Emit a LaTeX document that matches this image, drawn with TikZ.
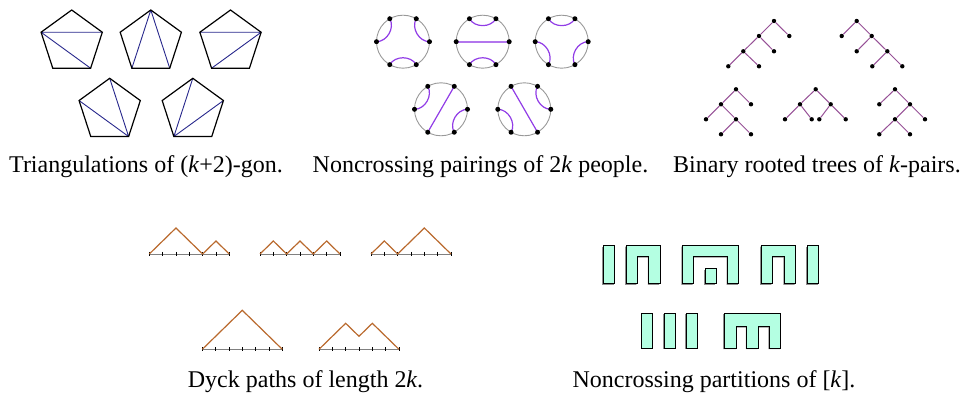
\documentclass[tikz,border=0pt]{standalone}
\usepackage{fontspec}
\setmainfont{Liberation Serif}
\usetikzlibrary{calc,shadows}

\definecolor{diagblue}{RGB}{40,40,140}
\definecolor{pairviolet}{RGB}{145,60,230}
\definecolor{treemauve}{RGB}{150,80,150}
\definecolor{dyckbrown}{RGB}{185,105,45}
\definecolor{mint}{RGB}{180,255,226}

\begin{document}
\begin{tikzpicture}[x=1pt,y=-1pt,
  gon/.style={draw=black,line width=1.2},
  diag/.style={draw=diagblue,line width=0.9},
  rim/.style={draw=black!40,line width=0.9},
  pair/.style={draw=pairviolet,line width=1.2},
  dot/.style={circle,fill=black,inner sep=0pt,minimum size=4.4pt},
  edge/.style={draw=treemauve,line width=1},
  axis/.style={draw=black!50,line width=0.9},
  tick/.style={draw=black,line width=0.9},
  dyck/.style={draw=dyckbrown,line width=1.2},
  block/.style={fill=mint,draw=black,line width=1,
    drop shadow={shadow xshift=-0.9pt,shadow yshift=-0.9pt,fill=black!45,opacity=1}},
  caption/.style={anchor=base,font=\fontsize{24}{28}\selectfont}]
\useasboundingbox (0,0) rectangle (962,395);

% Triangulations
\foreach \n/\cx/\cy in {p1/71.7/42.2, p2/150.8/42.2, p3/230.5/42.2, p4/109.7/110.5, p5/192.8/110.5} {
  \foreach \i in {0,...,4}
    \coordinate (\n-\i) at ($(\cx,\cy)+(-90-72*\i:32.2)$);
}
\draw[diag] (p1-1) -- (p1-4) (p1-1) -- (p1-3);
\draw[diag] (p2-0) -- (p2-2) (p2-0) -- (p2-3);
\draw[diag] (p3-1) -- (p3-4) (p3-4) -- (p3-2);
\draw[diag] (p4-0) -- (p4-3) (p4-1) -- (p4-3);
\draw[diag] (p5-0) -- (p5-2) (p5-4) -- (p5-2);
\foreach \n in {p1,p2,p3,p4,p5}
  \draw[gon] (\n-0) -- (\n-1) -- (\n-2) -- (\n-3) -- (\n-4) -- cycle;

% Noncrossing pairings
\foreach \n/\cx/\cy in {c1/403/41.7, c2/482.7/41.7, c3/561.7/41.7, c4/441/109.3, c5/524.3/109.3} {
  \coordinate (\n) at (\cx,\cy);
  \draw[rim] (\n) circle[radius=26.5];
  \foreach \i in {0,...,5}
    \coordinate (\n-\i) at ($(\n)+(-60*\i:26.5)$);
}
\foreach \n/\a/\b in {c1/2/3, c1/1/0, c1/4/5, c2/1/2, c2/4/5, c3/2/1, c3/3/4, c3/5/0, c4/2/3, c4/0/5, c5/1/0, c5/3/4}
  \draw[pair] (\n-\a) .. controls ($(\n-\a)!0.4!(\n)$) and ($(\n-\b)!0.4!(\n)$) .. (\n-\b);
\draw[pair,line width=1.8,draw=pairviolet!70] (c2-3) -- (c2-0);
\draw[pair] (c4-1) -- (c4-4);
\draw[pair] (c5-2) -- (c5-5);
\foreach \n in {c1,c2,c3,c4,c5}
  \foreach \i in {0,...,5}
    \node[dot,minimum size=5pt] at (\n-\i) {};

% Binary rooted trees
\foreach \n/\x/\y in {a0/774/21, a1/759/36, a2/789.3/36, a3/743.3/51.3, a4/774/51.3, a5/728.3/66.3, a6/759/66.3,
    b0/856.7/21, b1/841.7/36, b2/871.7/36, b3/856.7/51.3, b4/887.3/51.3, b5/872.3/66.3, b6/902.3/66.3,
    t0/736/89.3, t1/721/104.3, t2/751/104.3, t3/706/119.3, t4/736/119.3, t5/721/134.3, t6/751/134.3,
    d0/815.7/89.3, d1/800/104.3, d2/830.7/104.3, d3/785/119.3, d4/811.7/119.3, d5/819.3/119.3, d6/845.7/119.3,
    e0/895/89.3, e1/879.3/104.3, e2/910/104.3, e3/895/119.3, e4/925/119.3, e5/879.3/134.3, e6/910/134.3}
  \node[dot] (\n) at (\x,\y) {};
\foreach \u/\v in {a0/a1, a0/a2, a1/a3, a1/a4, a3/a5, a3/a6,
    b0/b1, b0/b2, b2/b3, b2/b4, b4/b5, b4/b6,
    t0/t1, t0/t2, t1/t3, t1/t4, t4/t5, t4/t6,
    d0/d1, d0/d2, d1/d3, d1/d4, d2/d5, d2/d6,
    e0/e1, e0/e2, e2/e3, e2/e4, e3/e5, e3/e6}
  \draw[edge] (\u) -- (\v);

% Dyck paths
\foreach \n/\x/\y in {y1/149.3/254, y2/260/254, y3/371/254, y4/202.3/349.3, y5/319/349.3} {
  \coordinate (\n) at (\x,\y);
  \draw[axis] (\n) -- ++(80,0);
  \foreach \i in {0,...,6}
    \draw[tick] ($(\n)+(13.33*\i,-2)$) -- ++(0,4);
}
\draw[dyck] (y1) \foreach \s in {1,1,-1,-1,1,-1} { -- ++(13.33,-13*\s) };
\draw[dyck] (y2) \foreach \s in {1,-1,1,-1,1,-1} { -- ++(13.33,-13*\s) };
\draw[dyck] (y3) \foreach \s in {1,-1,1,1,-1,-1} { -- ++(13.33,-13*\s) };
\draw[dyck] (y4) \foreach \s in {1,1,1,-1,-1,-1} { -- ++(13.33,-13*\s) };
\draw[dyck] (y5) \foreach \s in {1,1,-1,1,-1,-1} { -- ++(13.33,-13*\s) };

% Noncrossing partitions, row 1 (bottom 284, top 245.7)
\begin{scope}[shift={(603.3,245.7)}]
  \draw[block] (0,0) rectangle (11.3,38.3);
  \draw[block] (22.7,38.3) -- (22.7,0) -- (56.7,0) -- (56.7,38.3) -- (45.4,38.3)
    -- (45.4,11) -- (34,11) -- (34,38.3) -- cycle;
\end{scope}
\begin{scope}[shift={(682.3,245.7)}]
  \draw[block] (0,38.3) -- (0,0) -- (56.4,0) -- (56.4,38.3) -- (45.1,38.3)
    -- (45.1,11) -- (11.3,11) -- (11.3,38.3) -- cycle;
  \draw[block] (22.7,23.3) rectangle (34,38.3);
\end{scope}
\begin{scope}[shift={(761,245.7)}]
  \draw[block] (0,38.3) -- (0,0) -- (34.6,0) -- (34.6,38.3) -- (23.3,38.3)
    -- (23.3,11) -- (11.3,11) -- (11.3,38.3) -- cycle;
  \draw[block] (46.3,0) rectangle (57.5,38.3);
\end{scope}

% Noncrossing partitions, row 2 (bottom 348.3, top 313.3)
\begin{scope}[shift={(641.7,313.3)}]
  \foreach \i in {0,1,2}
    \draw[block] (22.3*\i,0) rectangle ++(11.2,35);
\end{scope}
\begin{scope}[shift={(724,313.3)}]
  \draw[block] (0,35) -- (0,0) -- (56.7,0) -- (56.7,35) -- (45.3,35) -- (45.3,13.4)
    -- (34.3,13.4) -- (34.3,35) -- (22.7,35) -- (22.7,13.4) -- (12.7,13.4) -- (12.7,35) -- cycle;
\end{scope}

% Captions
\node[caption] (captri) at (146,172.3) {Triangulations of (\textit{k}+2)-gon.};
\node[caption] (cappair) at (480.5,172.3) {Noncrossing pairings of 2\textit{k} people.};
\node[caption] (captree) at (817,172.3) {Binary rooted trees of \textit{k}-pairs.};
\node[caption] (capdyck) at (305.5,387.5) {Dyck paths of length 2\textit{k}.};
\node[caption] (capncp) at (714,387.5) {Noncrossing partitions of [\textit{k}].};
\end{tikzpicture}
\end{document}
